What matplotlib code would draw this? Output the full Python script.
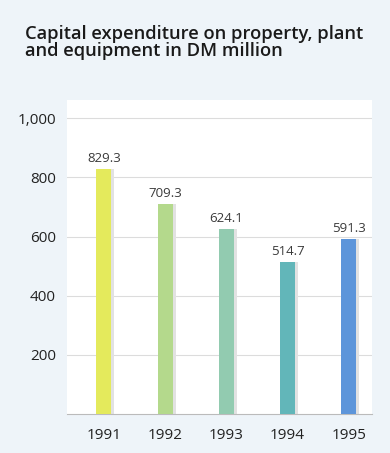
import matplotlib.pyplot as plt
import numpy as np

YEARS = ["1991", "1992", "1993", "1994", "1995"]
VALUES = [829.3, 709.3, 624.1, 514.7, 591.3]
VALUE_LABELS = ["829.3", "709.3", "624.1", "514.7", "591.3"]
BAR_COLORS = ["#e4ea5c", "#b4d98c", "#92cbb0", "#62b6b9", "#5d95da"]
Y_TICKS = [200, 400, 600, 800, 1000]
Y_TICK_LABELS = ["200", "400", "600", "800", "1,000"]

BG = "#eef4f9"
FONT = ["Open Sans", "DejaVu Sans"]


def main():
    plt.rcParams["font.family"] = FONT
    fig = plt.figure(figsize=(3.9, 4.53), dpi=100, facecolor=BG)
    ax = fig.add_axes([0.172, 0.086, 0.782, 0.693])
    ax.set_facecolor("white")

    x = np.arange(len(YEARS))
    width = 0.245

    # soft shadow to the right of each bar
    ax.bar(x + 0.05, VALUES, width=width, color="#e2e2e2", zorder=2)
    ax.bar(x, VALUES, width=width, color=BAR_COLORS, zorder=3)

    for xi, v, lab in zip(x, VALUES, VALUE_LABELS):
        ax.text(xi, v + 14, lab, ha="center", va="bottom",
                fontsize=9.5, color="#3a3a3a", zorder=4)

    ax.set_xlim(-0.6, 4.38)
    ax.set_ylim(0, 1061)
    ax.set_yticks(Y_TICKS)
    ax.set_yticklabels(Y_TICK_LABELS)
    ax.set_xticks(x)
    ax.set_xticklabels(YEARS)
    ax.grid(axis="y", color="#dcdcdc", lw=0.8, zorder=0)
    ax.tick_params(length=0, labelsize=11, colors="#222222")
    ax.tick_params(axis="y", pad=8)
    ax.tick_params(axis="x", pad=10)

    for side in ["top", "right", "left"]:
        ax.spines[side].set_visible(False)
    ax.spines["bottom"].set_color("#bbbbbb")
    ax.spines["bottom"].set_linewidth(0.8)

    fig.text(0.064, 0.944, "Capital expenditure on property, plant\nand equipment in DM million",
             ha="left", va="top", fontsize=13.2, fontweight="semibold",
             color="#1a1a1a", linespacing=0.88)

    fig.savefig("out.png", dpi=100, facecolor=BG)


if __name__ == "__main__":
    main()
